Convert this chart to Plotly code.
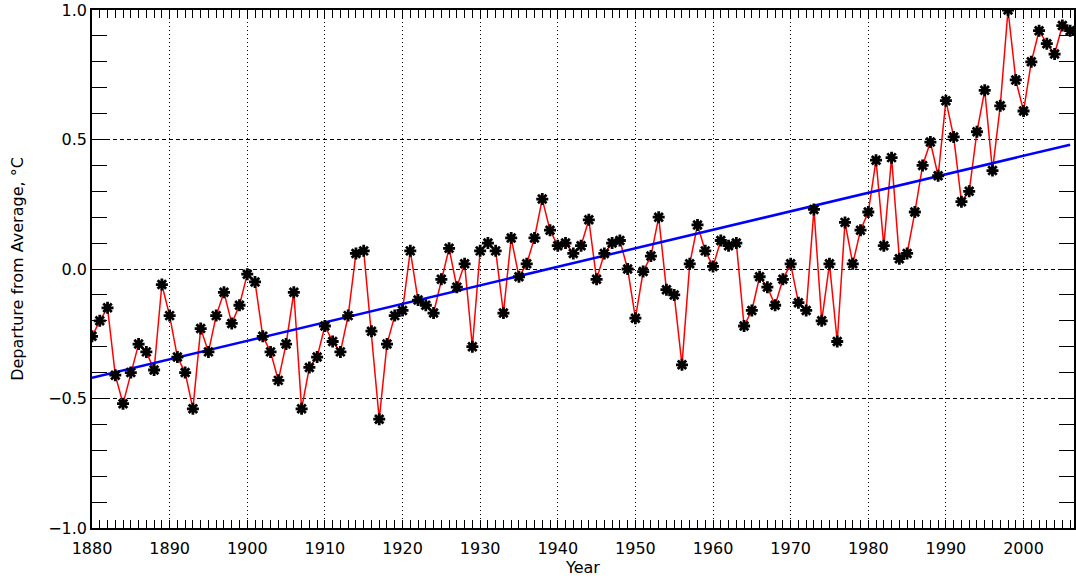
import plotly.graph_objects as go

years = list(range(1880, 2007))
anomaly = [
    -0.26, -0.20, -0.15, -0.41, -0.52, -0.40, -0.29, -0.32, -0.39, -0.06,
    -0.18, -0.34, -0.40, -0.54, -0.23, -0.32, -0.18, -0.09, -0.21, -0.14,
    -0.02, -0.05, -0.26, -0.32, -0.43, -0.29, -0.09, -0.54, -0.38, -0.34,
    -0.22, -0.28, -0.32, -0.18, 0.06, 0.07, -0.24, -0.58, -0.29, -0.18,
    -0.16, 0.07, -0.12, -0.14, -0.17, -0.04, 0.08, -0.07, 0.02, -0.30,
    0.07, 0.10, 0.07, -0.17, 0.12, -0.03, 0.02, 0.12, 0.27, 0.15,
    0.09, 0.10, 0.06, 0.09, 0.19, -0.04, 0.06, 0.10, 0.11, 0.00,
    -0.19, -0.01, 0.05, 0.20, -0.08, -0.10, -0.37, 0.02, 0.17, 0.07,
    0.01, 0.11, 0.09, 0.10, -0.22, -0.16, -0.03, -0.07, -0.14, -0.04,
    0.02, -0.13, -0.16, 0.23, -0.20, 0.02, -0.28, 0.18, 0.02, 0.15,
    0.22, 0.42, 0.09, 0.43, 0.04, 0.06, 0.22, 0.40, 0.49, 0.36,
    0.65, 0.51, 0.26, 0.30, 0.53, 0.69, 0.38, 0.63, 1.00, 0.73,
    0.61, 0.80, 0.92, 0.87, 0.83, 0.94, 0.92,
]
trend_years = [1880, 2006]
trend_vals = [-0.42, 0.48]

x_tickvals = list(range(1880, 2010, 10))
x_ticktext = [str(v) for v in x_tickvals]
y_tickvals = [-1.0, -0.5, 0.0, 0.5, 1.0]
y_ticktext = ["\u22121.0", "\u22120.5", "0.0", "0.5", "1.0"]

FONT = "DejaVu Sans"

fig = go.Figure()
fig.add_trace(go.Scatter(
    x=years, y=anomaly, mode="lines",
    line=dict(color="#ff0000", width=1.5),
    showlegend=False, hoverinfo="skip",
))
fig.add_trace(go.Scatter(
    x=trend_years, y=trend_vals, mode="lines",
    line=dict(color="#0000ff", width=2.5),
    showlegend=False, hoverinfo="skip",
))
fig.add_trace(go.Scatter(
    x=years, y=anomaly, mode="markers",
    marker=dict(symbol="asterisk-open", size=10, color="black",
                line=dict(color="black", width=2.8)),
    showlegend=False,
))

fig.update_layout(
    width=1076, height=579,
    margin=dict(l=92, r=0, t=10, b=51),
    paper_bgcolor="white", plot_bgcolor="white",
    font=dict(family=FONT, size=16, color="black"),
    xaxis=dict(
        range=[1880, 2006.5], tickmode="array",
        tickvals=x_tickvals, ticktext=x_ticktext,
        ticks="inside", ticklen=8, tickwidth=1, tickcolor="black",
        showline=True, linecolor="black", linewidth=1.5, mirror="ticks",
        showgrid=True, gridcolor="black", gridwidth=1, griddash="1px,3px",
        zeroline=False, ticklabelstandoff=5,
        minor=dict(dtick=1, ticks="inside", ticklen=8, tickcolor="black",
                   tickwidth=1, showgrid=False),
        title=dict(text="Year", standoff=3, font=dict(size=16)),
        tickfont=dict(size=16),
    ),
    yaxis=dict(
        range=[-1.0, 1.0], tickmode="array",
        tickvals=y_tickvals, ticktext=y_ticktext,
        ticks="inside", ticklen=15, tickwidth=1, tickcolor="black",
        showline=True, linecolor="black", linewidth=1.5, mirror="ticks",
        showgrid=True, gridcolor="black", gridwidth=1, griddash="4px,3px",
        zeroline=False,
        minor=dict(dtick=0.1, ticks="inside", ticklen=15, tickcolor="black",
                   tickwidth=1, showgrid=False),
        title=dict(text="Departure from Average, \u00b0C", standoff=21,
                   font=dict(size=16)),
        tickfont=dict(size=16),
    ),
)

fig.write_html("out.html", config={"displayModeBar": False},
               post_script="document.body.style.margin='0';")
